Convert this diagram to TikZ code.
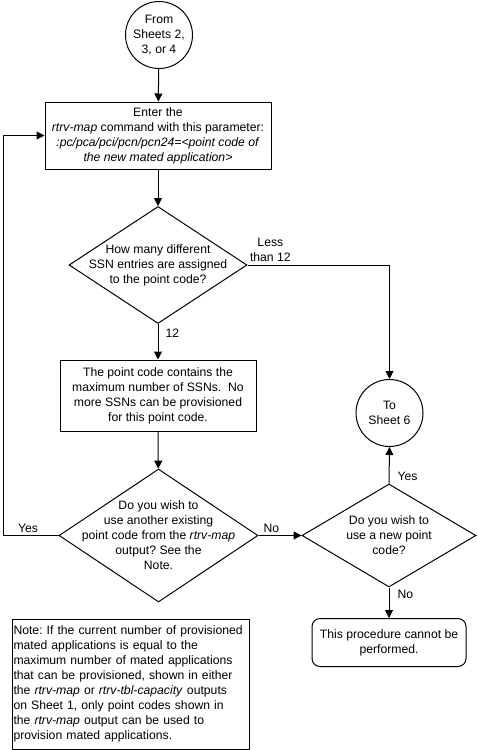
\documentclass[tikz,border=0pt]{standalone}
\usepackage{fontspec}
\setmainfont{Liberation Sans}
\usepackage{tikz}
\usetikzlibrary{%
  arrows.meta,% wg. Triangle
  shapes.geometric,% wg. diamond
  positioning%
}
\frenchspacing

\begin{document}
\begin{tikzpicture}[x=1pt, y=-1pt,
  font=\fontsize{12.2}{15}\selectfont,
  >={Triangle[length=8pt, width=8pt]},
  every node/.style={align=center, inner sep=0pt},
  connector/.style={draw, circle, line width=1pt, minimum size=67pt},
  process/.style={draw, rectangle, line width=1pt},
  decision/.style={draw, diamond, line width=1pt},
  terminal/.style={draw, rectangle, rounded corners=8pt, line width=1pt}
]
  \useasboundingbox (0,0) rectangle (477,750);

  \node[connector] (from)    at (159.0, 35.0) {From\\Sheets 2,\\3, or 4};
  \node[process, minimum width=226pt, minimum height=67pt]
                   (enter)   at (158.0,135.5) {Enter the\\\textit{rtrv-map} command with this parameter:\\\textit{:pc/pca/pci/pcn/pcn24=<point code of}\\\textit{the new mated application>}};
  \node[decision, minimum width=178pt, minimum height=117pt,
        label={center:How many different\\SSN entries are assigned\\to the point code?}]
                   (howmany) at (158.0,265.0) {};
  \node[process, minimum width=196pt, minimum height=71pt]
                   (maxssn)  at (158.0,395.5) {The point code contains the\\maximum number of SSNs.\ \ No\\more SSNs can be provisioned\\for this point code.};
  \node[decision, minimum width=199pt, minimum height=133pt,
        label={center:Do you wish to\\use another existing\\point code from the \textit{rtrv-map}\\output? See the\\Note.}]
                   (another) at (158.5,535.5) {};
  \node[decision, minimum width=174pt, minimum height=103pt,
        label={center:Do you wish to\\use a new point\\code?}]
                   (newpc)   at (389.0,535.5) {};
  \node[connector] (tosix)   at (389.5,413.0) {To\\Sheet 6};
  \node[terminal, minimum width=154pt, minimum height=48pt]
                   (cannot)  at (389.0,642.5) {This procedure cannot be\\performed.};
  \node[process, text width=234pt, align=left, inner sep=1.5pt, minimum height=130pt]
                   (note)    at (130.5,684.0) {Note: If the current number of provisioned\\mated applications is equal to the\\maximum number of mated applications\\that can be provisioned, shown in either\\the \textit{rtrv-map} or \textit{rtrv-tbl-capacity} outputs\\on Sheet 1, only point codes shown in\\the \textit{rtrv-map} output can be used to\\provision mated applications.};

  \coordinate (loop) at (3,535.5);

  % main flow
  \tikzset{FlowStyle/.style = {->, line width=1pt, black}}
  \draw[FlowStyle] (from) -- (enter);
  \draw[FlowStyle] (enter) -- (howmany);
  \draw[FlowStyle] (howmany) -- node[pos=0.25, right=7pt] {12} (maxssn);
  \draw[FlowStyle] (maxssn) -- (another);

  % branches
  \draw[FlowStyle] (howmany.east) -| node[at start, anchor=south west, xshift=2pt, yshift=3pt] {Less\\than 12} (tosix.north);
  \draw[FlowStyle] (another.east) -- node[pos=0.3, above=2pt] {No} (newpc.west);
  \draw[FlowStyle] (newpc.north) -- node[pos=0.2, right=8pt] {Yes} (tosix.south);
  \draw[FlowStyle] (newpc.south) -- node[pos=0.22, right=8pt] {No} (cannot.north);

  % back to the top
  \draw[FlowStyle] (another.west) -- node[pos=0.55, above=2pt] {Yes} (loop) |- (enter.west);
\end{tikzpicture}
\end{document}
